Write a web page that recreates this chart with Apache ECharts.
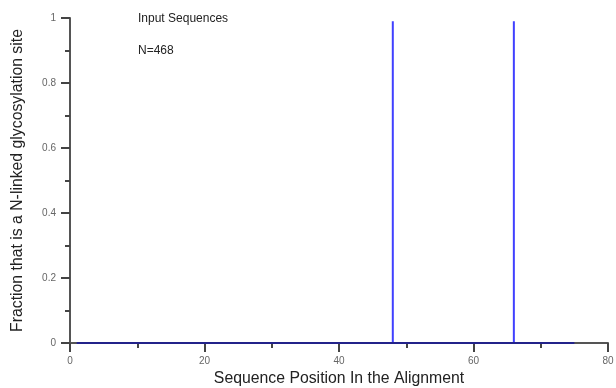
<!DOCTYPE html>
<html>
<head>
<meta charset="utf-8">
<script src="https://cdn.jsdelivr.net/npm/echarts@6/dist/echarts.min.js"></script>
<style>
  html, body { margin: 0; padding: 0; background: #fff; }
  #chart { width: 616px; height: 388px; }
</style>
</head>
<body>
<div id="chart"></div>
<script>
// alignment positions covered by the trace
const firstPos = 1
const lastPos = 75
// positions that are N-linked glycosylation sites, and their fraction
const sitePositions = [48, 66]
const siteFractions = [0.99, 0.99]
const xLabels = [0, 20, 40, 60, 80]
const yLabels = [0, 0.2, 0.4, 0.6, 0.8, 1]

;(function () {
  let myChart = echarts.init(document.getElementById('chart'))

  // vertical spikes at the sites
  let spikes = []
  sitePositions.forEach((p, i) => {
    spikes.push([p, 0], [p, siteFractions[i]], [p, 0])
  })
  // flat baseline at 0
  let baseline = [[firstPos, 0], [lastPos, 0]]

  let font = 'Liberation Sans, Arial, sans-serif'
  let tick = { length: 9, lineStyle: { color: '#444', width: 2 } }
  let minor = { show: true, splitNumber: 2, length: 5, lineStyle: { color: '#444', width: 2 } }
  let option = {
    animation: false,
    grid: { left: 70, right: 8, top: 18, bottom: 45, containLabel: false, outerBoundsMode: 'none' },
    xAxis: {
      type: 'value',
      min: 0,
      max: 80,
      interval: 20,
      name: 'Sequence Position In the Alignment',
      nameLocation: 'middle',
      nameGap: 26,
      nameTextStyle: { color: '#222', fontSize: 15.8, fontFamily: font },
      axisLine: { onZero: false, lineStyle: { color: '#555', width: 2 } },
      axisTick: tick,
      minorTick: minor,
      axisLabel: {
        color: '#666', fontSize: 10, fontFamily: font, margin: 13,
        formatter: v => xLabels.indexOf(v) >= 0 ? String(v) : ''
      },
      splitLine: { show: false }
    },
    yAxis: {
      type: 'value',
      min: 0,
      max: 1,
      interval: 0.2,
      name: 'Fraction that is a N-linked glycosylation site',
      nameLocation: 'middle',
      nameGap: 44,
      nameTextStyle: { color: '#222', fontSize: 15.8, fontFamily: font },
      axisLine: { lineStyle: { color: '#555', width: 2 } },
      axisTick: tick,
      minorTick: minor,
      axisLabel: {
        color: '#666', fontSize: 10, fontFamily: font, margin: 14,
        formatter: v => {
          let r = Math.round(v * 10) / 10
          return yLabels.indexOf(r) >= 0 ? String(r) : ''
        }
      },
      splitLine: { show: false }
    },
    graphic: [
      { type: 'text', left: 138, top: 13, style: { text: 'Input Sequences', fill: '#222', font: '12px ' + font } },
      { type: 'text', left: 138, top: 45, style: { text: 'N=468', fill: '#222', font: '12px ' + font } }
    ],
    series: [{
      type: 'line',
      data: spikes,
      symbol: 'none',
      lineStyle: { width: 2, color: '#4040ff' }
    }, {
      type: 'line',
      data: baseline,
      symbol: 'none',
      z: 3,
      lineStyle: { width: 2, color: '#23238a' }
    }]
  }
  myChart.setOption(option)
})()
</script>
</body>
</html>
